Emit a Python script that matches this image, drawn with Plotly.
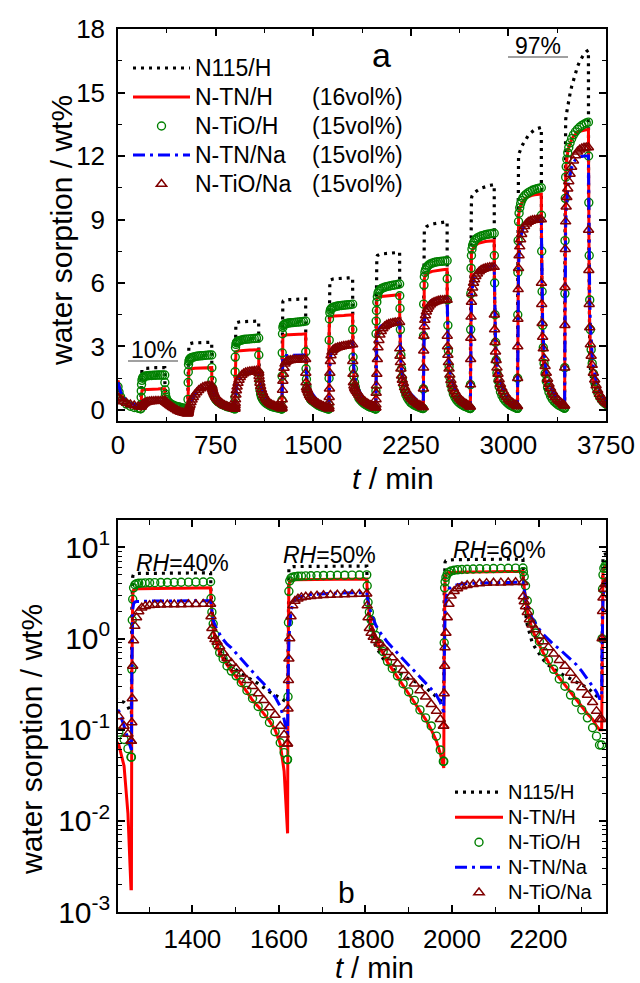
import plotly.graph_objects as go

# ---------------- timing (min) ----------------
SORP_START = [176, 537, 898, 1259, 1620, 1981, 2346, 2708, 3070, 3432]   # RH step switched on
SORP_LEN = 183                                                            # RH step length
RH_STEPS = [10, 20, 30, 40, 50, 60, 70, 80, 90, 97]
SORP_OFF = [0, 1, 2, 3, 5, 8, 12, 17, 24, 32, 42, 54, 68, 83, 99, 115, 132, 149, 166, 183]
DES_OFF = [1, 3, 6, 10, 15, 21, 29, 38, 48, 59, 71, 84, 97, 110, 123, 136, 149, 161, 170, 177]
INIT_T = [0, 8, 20, 40, 65, 95, 125, 155, 172]

# ---------------- N115/H ----------------
N115_H_INIT = [1.0, 0.8, 0.62, 0.48, 0.38, 0.3, 0.26, 0.23, 0.2]
N115_H_SORP = [
    [0.2, 0.8, 1.4, 1.7, 1.85, 1.9, 1.93, 1.95, 1.96, 1.97, 1.97, 1.98, 1.98, 1.99, 1.99, 2.0, 2.0, 2.0, 2.0, 2.0],
    [0.2, 1.2, 2.3, 2.8, 3.0, 3.08, 3.12, 3.14, 3.15, 3.16, 3.17, 3.17, 3.18, 3.18, 3.19, 3.19, 3.2, 3.2, 3.2, 3.2],
    [0.2, 1.5, 3.0, 3.7, 4.0, 4.08, 4.12, 4.14, 4.15, 4.16, 4.17, 4.17, 4.18, 4.18, 4.19, 4.19, 4.2, 4.2, 4.2, 4.2],
    [0.15, 2.0, 4.0, 4.8, 5.05, 5.12, 5.16, 5.18, 5.19, 5.2, 5.21, 5.21, 5.22, 5.22, 5.23, 5.23, 5.24, 5.24, 5.25, 5.25],
    [0.2, 2.5, 5.0, 5.8, 6.05, 6.12, 6.15, 6.17, 6.18, 6.19, 6.2, 6.2, 6.21, 6.21, 6.22, 6.22, 6.23, 6.24, 6.24, 6.25],
    [0.2, 3.0, 6.0, 6.9, 7.15, 7.25, 7.3, 7.32, 7.34, 7.36, 7.37, 7.38, 7.39, 7.4, 7.41, 7.42, 7.43, 7.44, 7.44, 7.45],
    [0.22, 3.5, 7.0, 8.0, 8.35, 8.5, 8.57, 8.62, 8.66, 8.69, 8.72, 8.75, 8.78, 8.8, 8.82, 8.84, 8.86, 8.88, 8.89, 8.9],
    [0.23, 4.0, 8.0, 9.3, 9.8, 10.0, 10.1, 10.17, 10.23, 10.28, 10.33, 10.38, 10.43, 10.48, 10.52, 10.55, 10.58, 10.61, 10.63, 10.65],
    [0.24, 5.0, 9.5, 11.2, 11.8, 12.0, 12.12, 12.22, 12.33, 12.44, 12.56, 12.7, 12.84, 12.97, 13.08, 13.17, 13.24, 13.29, 13.33, 13.35],
    [0.25, 6.0, 11.0, 12.8, 13.4, 13.7, 13.92, 14.12, 14.38, 14.65, 14.95, 15.28, 15.62, 15.94, 16.22, 16.46, 16.66, 16.82, 16.93, 17.0],
]
N115_H_DES = [
    [1.3, 0.9, 0.7, 0.58, 0.5, 0.45, 0.41, 0.38, 0.35, 0.33, 0.31, 0.29, 0.27, 0.26, 0.25, 0.24, 0.23, 0.22, 0.21, 0.2],
    [2.0, 1.3, 0.95, 0.75, 0.63, 0.55, 0.49, 0.44, 0.4, 0.37, 0.34, 0.32, 0.3, 0.28, 0.26, 0.25, 0.24, 0.23, 0.21, 0.2],
    [2.6, 1.6, 1.15, 0.9, 0.74, 0.63, 0.55, 0.49, 0.44, 0.4, 0.36, 0.33, 0.3, 0.27, 0.25, 0.23, 0.21, 0.2, 0.18, 0.15],
    [3.2, 2.0, 1.4, 1.05, 0.87, 0.74, 0.64, 0.56, 0.5, 0.45, 0.41, 0.38, 0.35, 0.32, 0.29, 0.26, 0.24, 0.22, 0.21, 0.2],
    [3.8, 2.4, 1.65, 1.22, 0.98, 0.82, 0.7, 0.6, 0.53, 0.47, 0.43, 0.39, 0.36, 0.34, 0.31, 0.29, 0.26, 0.23, 0.21, 0.2],
    [4.5, 2.8, 1.9, 1.42, 1.12, 0.92, 0.78, 0.67, 0.58, 0.51, 0.46, 0.42, 0.39, 0.36, 0.34, 0.31, 0.29, 0.26, 0.24, 0.22],
    [5.4, 3.3, 2.2, 1.6, 1.27, 1.03, 0.86, 0.73, 0.63, 0.55, 0.49, 0.44, 0.4, 0.37, 0.34, 0.32, 0.29, 0.27, 0.25, 0.23],
    [6.5, 4.0, 2.6, 1.85, 1.42, 1.13, 0.93, 0.78, 0.67, 0.58, 0.51, 0.46, 0.42, 0.38, 0.35, 0.32, 0.3, 0.28, 0.26, 0.24],
    [8.0, 5.0, 3.2, 2.2, 1.66, 1.3, 1.06, 0.88, 0.74, 0.64, 0.56, 0.49, 0.44, 0.4, 0.37, 0.34, 0.31, 0.29, 0.27, 0.25],
    [10.0, 6.2, 3.9, 2.6, 1.95, 1.52, 1.22, 1.0, 0.84, 0.72, 0.62, 0.54, 0.48, 0.43, 0.39, 0.35, 0.32, 0.3, 0.28, 0.26],
]

# ---------------- N-TN/H ----------------
TN_H_INIT = [1.4, 1.15, 0.85, 0.58, 0.4, 0.26, 0.16, 0.08, 0.03]
TN_H_SORP = [
    [0.03, 0.3, 0.6, 0.78, 0.88, 0.92, 0.94, 0.95, 0.96, 0.96, 0.97, 0.97, 0.98, 0.98, 0.99, 0.99, 0.99, 1.0, 1.0, 1.0],
    [0.02, 0.5, 1.3, 1.65, 1.85, 1.9, 1.93, 1.94, 1.95, 1.96, 1.96, 1.97, 1.97, 1.98, 1.98, 1.99, 1.99, 2.0, 2.0, 2.0],
    [0.02, 0.7, 1.9, 2.4, 2.65, 2.72, 2.76, 2.78, 2.79, 2.8, 2.8, 2.81, 2.81, 2.82, 2.82, 2.83, 2.83, 2.84, 2.84, 2.85],
    [0.0018, 0.4, 1.6, 3.0, 3.4, 3.48, 3.51, 3.52, 3.53, 3.54, 3.55, 3.55, 3.56, 3.56, 3.57, 3.57, 3.58, 3.58, 3.59, 3.6],
    [0.0073, 0.5, 2.0, 3.8, 4.25, 4.35, 4.39, 4.41, 4.42, 4.43, 4.44, 4.45, 4.45, 4.46, 4.47, 4.47, 4.48, 4.49, 4.49, 4.5],
    [0.038, 0.8, 3.0, 4.6, 5.1, 5.25, 5.3, 5.32, 5.34, 5.35, 5.36, 5.37, 5.38, 5.39, 5.4, 5.41, 5.42, 5.43, 5.44, 5.45],
    [0.1, 1.0, 3.5, 5.3, 6.0, 6.2, 6.3, 6.36, 6.41, 6.45, 6.49, 6.52, 6.55, 6.57, 6.59, 6.61, 6.62, 6.63, 6.64, 6.65],
    [0.1, 1.2, 4.0, 6.0, 7.0, 7.35, 7.5, 7.6, 7.68, 7.74, 7.8, 7.85, 7.89, 7.92, 7.94, 7.96, 7.97, 7.98, 7.99, 8.0],
    [0.1, 1.5, 4.8, 7.2, 8.6, 9.1, 9.35, 9.52, 9.66, 9.78, 9.88, 9.96, 10.03, 10.08, 10.12, 10.15, 10.17, 10.18, 10.19, 10.2],
    [0.1, 2.0, 6.0, 8.8, 10.5, 11.2, 11.6, 11.9, 12.18, 12.4, 12.6, 12.78, 12.93, 13.04, 13.12, 13.17, 13.2, 13.22, 13.24, 13.25],
]
TN_H_DES = [
    [0.7, 0.5, 0.38, 0.3, 0.25, 0.21, 0.17, 0.14, 0.12, 0.1, 0.085, 0.07, 0.06, 0.05, 0.045, 0.04, 0.035, 0.03, 0.025, 0.02],
    [1.4, 0.95, 0.7, 0.55, 0.46, 0.39, 0.32, 0.27, 0.22, 0.18, 0.15, 0.12, 0.1, 0.08, 0.065, 0.055, 0.045, 0.035, 0.028, 0.02],
    [2.0, 1.35, 1.0, 0.8, 0.66, 0.56, 0.47, 0.4, 0.33, 0.28, 0.23, 0.18, 0.15, 0.12, 0.1, 0.082, 0.068, 0.04, 0.012, 0.0018],
    [2.6, 1.75, 1.3, 1.02, 0.84, 0.7, 0.6, 0.51, 0.44, 0.38, 0.32, 0.26, 0.21, 0.18, 0.15, 0.125, 0.1, 0.07, 0.035, 0.0073],
    [3.4, 2.4, 1.8, 1.45, 1.2, 1.0, 0.83, 0.68, 0.55, 0.46, 0.38, 0.31, 0.25, 0.2, 0.16, 0.13, 0.1, 0.075, 0.055, 0.038],
    [4.4, 3.5, 2.7, 2.0, 1.6, 1.28, 1.03, 0.84, 0.68, 0.55, 0.45, 0.37, 0.31, 0.26, 0.22, 0.18, 0.15, 0.13, 0.11, 0.1],
    [5.3, 4.0, 2.9, 2.1, 1.62, 1.28, 1.03, 0.84, 0.68, 0.56, 0.46, 0.38, 0.31, 0.26, 0.22, 0.18, 0.15, 0.13, 0.11, 0.1],
    [6.4, 4.8, 3.4, 2.4, 1.82, 1.43, 1.15, 0.93, 0.76, 0.62, 0.51, 0.42, 0.34, 0.28, 0.23, 0.19, 0.16, 0.13, 0.11, 0.1],
    [8.2, 6.0, 4.3, 3.0, 2.25, 1.75, 1.4, 1.13, 0.92, 0.75, 0.61, 0.5, 0.41, 0.34, 0.28, 0.23, 0.19, 0.15, 0.12, 0.1],
    [10.6, 7.8, 5.5, 3.8, 2.85, 2.2, 1.75, 1.4, 1.13, 0.92, 0.75, 0.61, 0.5, 0.41, 0.34, 0.28, 0.23, 0.19, 0.16, 0.13],
]

# ---------------- N-TiO/H ----------------
TIO_H_INIT = [1.1, 0.85, 0.62, 0.42, 0.28, 0.18, 0.12, 0.08, 0.06]
TIO_H_SORP = [
    [0.06, 0.25, 0.6, 0.9, 1.2, 1.4, 1.5, 1.55, 1.58, 1.6, 1.61, 1.62, 1.63, 1.63, 1.64, 1.64, 1.65, 1.65, 1.65, 1.65],
    [0.045, 0.5, 1.3, 1.8, 2.15, 2.3, 2.38, 2.43, 2.46, 2.48, 2.5, 2.52, 2.54, 2.55, 2.56, 2.57, 2.58, 2.59, 2.6, 2.6],
    [0.055, 0.6, 1.8, 2.5, 2.95, 3.1, 3.18, 3.22, 3.25, 3.27, 3.29, 3.31, 3.33, 3.34, 3.35, 3.36, 3.37, 3.38, 3.39, 3.4],
    [0.05, 0.46, 1.6, 2.7, 3.6, 3.9, 4.0, 4.04, 4.06, 4.08, 4.1, 4.11, 4.12, 4.13, 4.14, 4.15, 4.16, 4.17, 4.18, 4.2],
    [0.047, 0.23, 1.5, 3.3, 4.3, 4.6, 4.72, 4.78, 4.82, 4.85, 4.87, 4.89, 4.91, 4.93, 4.94, 4.95, 4.96, 4.97, 4.98, 5.0],
    [0.045, 0.9, 3.6, 4.2, 4.7, 5.1, 5.35, 5.52, 5.62, 5.68, 5.73, 5.77, 5.8, 5.83, 5.85, 5.87, 5.89, 5.91, 5.93, 5.95],
    [0.068, 1.0, 3.5, 5.0, 5.9, 6.3, 6.5, 6.62, 6.72, 6.79, 6.85, 6.9, 6.94, 6.97, 6.99, 7.01, 7.02, 7.03, 7.04, 7.05],
    [0.07, 1.2, 3.8, 5.5, 6.7, 7.3, 7.6, 7.78, 7.9, 8.0, 8.07, 8.13, 8.18, 8.22, 8.25, 8.28, 8.3, 8.32, 8.34, 8.35],
    [0.075, 1.5, 4.5, 6.5, 8.0, 8.9, 9.3, 9.55, 9.75, 9.9, 10.02, 10.12, 10.2, 10.27, 10.33, 10.38, 10.42, 10.45, 10.48, 10.5],
    [0.085, 2.0, 5.5, 8.0, 10.0, 11.0, 11.5, 11.85, 12.15, 12.4, 12.62, 12.82, 13.0, 13.14, 13.26, 13.36, 13.44, 13.5, 13.56, 13.6],
]
TIO_H_DES = [
    [1.3, 0.95, 0.75, 0.6, 0.5, 0.43, 0.37, 0.32, 0.28, 0.24, 0.21, 0.18, 0.16, 0.14, 0.12, 0.1, 0.085, 0.07, 0.055, 0.045],
    [2.0, 1.4, 1.05, 0.85, 0.7, 0.6, 0.52, 0.45, 0.39, 0.34, 0.29, 0.25, 0.21, 0.18, 0.15, 0.13, 0.11, 0.09, 0.07, 0.055],
    [2.6, 1.75, 1.25, 0.95, 0.76, 0.62, 0.52, 0.44, 0.37, 0.31, 0.26, 0.21, 0.17, 0.145, 0.125, 0.108, 0.094, 0.078, 0.062, 0.05],
    [2.75, 1.95, 1.45, 1.1, 0.85, 0.7, 0.6, 0.5, 0.44, 0.39, 0.33, 0.27, 0.22, 0.18, 0.15, 0.12, 0.095, 0.072, 0.056, 0.047],
    [3.8, 2.5, 1.95, 1.6, 1.3, 1.08, 0.88, 0.72, 0.56, 0.47, 0.39, 0.32, 0.26, 0.21, 0.165, 0.135, 0.11, 0.085, 0.06, 0.045],
    [5.4, 4.8, 3.8, 2.6, 1.95, 1.5, 1.15, 0.93, 0.72, 0.58, 0.46, 0.36, 0.3, 0.24, 0.2, 0.165, 0.135, 0.105, 0.085, 0.068],
    [6.2, 5.2, 4.0, 2.8, 2.05, 1.55, 1.2, 0.97, 0.76, 0.61, 0.49, 0.39, 0.32, 0.26, 0.21, 0.17, 0.14, 0.11, 0.088, 0.07],
    [7.3, 6.0, 4.5, 3.2, 2.35, 1.75, 1.38, 1.1, 0.86, 0.69, 0.55, 0.44, 0.36, 0.29, 0.23, 0.19, 0.15, 0.12, 0.095, 0.075],
    [9.2, 7.5, 5.6, 4.0, 2.95, 2.2, 1.72, 1.36, 1.06, 0.84, 0.66, 0.52, 0.42, 0.34, 0.27, 0.22, 0.18, 0.14, 0.11, 0.085],
    [12.0, 9.8, 7.3, 5.2, 3.8, 2.85, 2.2, 1.72, 1.34, 1.05, 0.82, 0.64, 0.51, 0.41, 0.33, 0.27, 0.22, 0.17, 0.14, 0.11],
]

# ---------------- N-TN/Na ----------------
TN_NA_INIT = [1.3, 1.1, 0.85, 0.62, 0.45, 0.33, 0.25, 0.2, 0.18]
TN_NA_SORP = [
    [0.18, 0.19, 0.2, 0.21, 0.23, 0.25, 0.28, 0.31, 0.34, 0.36, 0.38, 0.39, 0.4, 0.41, 0.41, 0.42, 0.42, 0.42, 0.42, 0.42],
    [-0.15, -0.12, -0.09, -0.06, 0.0, 0.08, 0.17, 0.27, 0.38, 0.5, 0.62, 0.74, 0.85, 0.94, 1.0, 1.04, 1.07, 1.09, 1.1, 1.1],
    [0.05, 0.15, 0.3, 0.45, 0.65, 0.85, 1.02, 1.18, 1.33, 1.46, 1.57, 1.66, 1.73, 1.77, 1.8, 1.82, 1.83, 1.84, 1.85, 1.85],
    [0.06, 0.46, 1.25, 2.08, 2.4, 2.52, 2.55, 2.56, 2.57, 2.57, 2.58, 2.58, 2.58, 2.59, 2.59, 2.59, 2.6, 2.6, 2.6, 2.6],
    [0.09, 0.3, 0.6, 0.9, 1.4, 2.0, 2.4, 2.65, 2.82, 2.92, 2.99, 3.04, 3.08, 3.11, 3.13, 3.15, 3.17, 3.18, 3.19, 3.2],
    [0.16, 0.5, 1.2, 1.8, 2.6, 3.2, 3.5, 3.68, 3.82, 3.92, 3.98, 4.03, 4.06, 4.08, 4.1, 4.11, 4.12, 4.13, 4.14, 4.15],
    [0.22, 0.8, 1.8, 2.6, 3.5, 4.1, 4.45, 4.68, 4.85, 4.97, 5.06, 5.13, 5.18, 5.22, 5.25, 5.27, 5.28, 5.29, 5.3, 5.3],
    [0.22, 1.0, 2.2, 3.2, 4.3, 5.1, 5.6, 5.92, 6.15, 6.32, 6.46, 6.56, 6.64, 6.7, 6.74, 6.77, 6.78, 6.79, 6.8, 6.8],
    [0.23, 1.3, 2.8, 4.2, 5.6, 6.7, 7.3, 7.75, 8.1, 8.37, 8.58, 8.74, 8.85, 8.92, 8.96, 8.98, 8.99, 9.0, 9.0, 9.0],
    [0.25, 1.7, 3.6, 5.4, 7.2, 8.6, 9.4, 9.95, 10.4, 10.8, 11.15, 11.45, 11.68, 11.83, 11.92, 11.96, 11.98, 12.0, 12.0, 12.0],
]
TN_NA_DES = [
    [0.41, 0.4, 0.38, 0.36, 0.33, 0.3, 0.26, 0.22, 0.18, 0.13, 0.08, 0.03, -0.02, -0.06, -0.09, -0.11, -0.13, -0.14, -0.15, -0.15],
    [1.06, 1.01, 0.95, 0.88, 0.8, 0.72, 0.63, 0.55, 0.47, 0.4, 0.33, 0.27, 0.22, 0.18, 0.15, 0.12, 0.1, 0.08, 0.06, 0.05],
    [1.75, 1.62, 1.48, 1.34, 1.2, 1.07, 0.93, 0.8, 0.68, 0.57, 0.47, 0.38, 0.31, 0.26, 0.22, 0.19, 0.16, 0.11, 0.08, 0.06],
    [2.4, 1.9, 1.6, 1.4, 1.25, 1.12, 0.98, 0.87, 0.79, 0.69, 0.59, 0.5, 0.43, 0.37, 0.32, 0.27, 0.23, 0.18, 0.13, 0.09],
    [2.9, 2.55, 2.2, 1.9, 1.62, 1.4, 1.2, 1.04, 0.91, 0.8, 0.69, 0.59, 0.51, 0.44, 0.38, 0.33, 0.28, 0.24, 0.2, 0.16],
    [3.9, 3.3, 2.8, 2.35, 1.95, 1.68, 1.45, 1.26, 1.1, 0.97, 0.86, 0.77, 0.68, 0.6, 0.52, 0.44, 0.36, 0.3, 0.26, 0.22],
    [5.0, 4.2, 3.4, 2.8, 2.3, 1.95, 1.65, 1.4, 1.2, 1.03, 0.88, 0.75, 0.64, 0.55, 0.47, 0.4, 0.34, 0.29, 0.25, 0.22],
    [6.4, 5.4, 4.3, 3.4, 2.75, 2.25, 1.88, 1.58, 1.33, 1.12, 0.95, 0.8, 0.68, 0.58, 0.49, 0.42, 0.36, 0.3, 0.26, 0.23],
    [8.5, 7.0, 5.5, 4.2, 3.35, 2.7, 2.2, 1.82, 1.52, 1.27, 1.06, 0.89, 0.75, 0.63, 0.53, 0.45, 0.38, 0.32, 0.28, 0.25],
    [11.3, 9.2, 7.0, 5.3, 4.05, 3.15, 2.55, 2.08, 1.7, 1.4, 1.15, 0.95, 0.79, 0.66, 0.55, 0.46, 0.39, 0.33, 0.29, 0.26],
]

# ---------------- N-TiO/Na ----------------
TIO_NA_INIT = [0.6, 0.55, 0.48, 0.4, 0.33, 0.26, 0.21, 0.17, 0.15]
TIO_NA_SORP = [
    [0.15, 0.16, 0.17, 0.18, 0.2, 0.22, 0.25, 0.28, 0.31, 0.34, 0.37, 0.39, 0.4, 0.41, 0.41, 0.42, 0.42, 0.42, 0.42, 0.42],
    [-0.16, -0.13, -0.1, -0.07, -0.02, 0.05, 0.14, 0.24, 0.36, 0.48, 0.6, 0.72, 0.83, 0.93, 1.01, 1.07, 1.11, 1.13, 1.14, 1.15],
    [0.05, 0.12, 0.22, 0.32, 0.5, 0.72, 0.92, 1.1, 1.27, 1.42, 1.55, 1.65, 1.72, 1.77, 1.8, 1.82, 1.83, 1.84, 1.85, 1.85],
    [0.075, 0.12, 0.22, 0.5, 0.95, 1.37, 1.7, 1.98, 2.18, 2.27, 2.32, 2.34, 2.35, 2.36, 2.37, 2.37, 2.38, 2.38, 2.39, 2.4],
    [0.07, 0.17, 0.35, 0.6, 1.0, 1.75, 2.3, 2.58, 2.74, 2.83, 2.88, 2.92, 2.95, 2.98, 3.0, 3.02, 3.04, 3.06, 3.08, 3.1],
    [0.11, 0.25, 0.5, 0.8, 1.15, 1.7, 2.4, 2.95, 3.3, 3.55, 3.72, 3.85, 3.95, 4.02, 4.06, 4.09, 4.11, 4.13, 4.14, 4.15],
    [0.13, 1.0, 2.0, 2.8, 3.5, 3.95, 4.25, 4.47, 4.64, 4.77, 4.88, 4.97, 5.04, 5.09, 5.13, 5.16, 5.18, 5.19, 5.2, 5.2],
    [0.15, 1.2, 2.4, 3.4, 4.4, 5.1, 5.5, 5.78, 6.0, 6.17, 6.32, 6.44, 6.54, 6.61, 6.66, 6.7, 6.72, 6.74, 6.75, 6.75],
    [0.18, 1.5, 3.0, 4.3, 5.7, 6.7, 7.3, 7.72, 8.05, 8.3, 8.52, 8.68, 8.8, 8.88, 8.93, 8.96, 8.98, 8.99, 9.0, 9.0],
    [0.2, 2.0, 4.0, 5.8, 7.6, 8.9, 9.6, 10.05, 10.45, 10.8, 11.15, 11.48, 11.78, 12.02, 12.2, 12.3, 12.36, 12.39, 12.4, 12.4],
]
TIO_NA_DES = [
    [0.41, 0.4, 0.39, 0.37, 0.34, 0.31, 0.27, 0.23, 0.18, 0.13, 0.08, 0.03, -0.02, -0.06, -0.1, -0.12, -0.14, -0.15, -0.16, -0.16],
    [1.1, 1.05, 0.98, 0.9, 0.82, 0.73, 0.64, 0.56, 0.48, 0.41, 0.34, 0.28, 0.23, 0.19, 0.16, 0.13, 0.11, 0.09, 0.07, 0.05],
    [1.75, 1.6, 1.45, 1.28, 1.12, 0.97, 0.83, 0.7, 0.58, 0.48, 0.39, 0.32, 0.26, 0.22, 0.19, 0.165, 0.14, 0.11, 0.09, 0.075],
    [1.75, 1.3, 1.07, 0.98, 0.92, 0.82, 0.7, 0.61, 0.54, 0.47, 0.41, 0.35, 0.3, 0.25, 0.21, 0.175, 0.145, 0.11, 0.088, 0.07],
    [2.3, 1.7, 1.3, 1.15, 1.04, 0.96, 0.88, 0.8, 0.71, 0.62, 0.53, 0.45, 0.38, 0.32, 0.27, 0.23, 0.19, 0.16, 0.13, 0.11],
    [2.9, 2.55, 2.25, 1.95, 1.62, 1.42, 1.26, 1.07, 0.93, 0.8, 0.68, 0.58, 0.5, 0.42, 0.35, 0.29, 0.24, 0.2, 0.16, 0.13],
    [3.5, 3.0, 2.6, 2.25, 1.95, 1.66, 1.41, 1.2, 1.02, 0.87, 0.74, 0.63, 0.53, 0.45, 0.38, 0.32, 0.27, 0.22, 0.18, 0.15],
    [4.5, 3.8, 3.2, 2.75, 2.35, 2.0, 1.7, 1.44, 1.22, 1.03, 0.87, 0.73, 0.61, 0.51, 0.43, 0.36, 0.3, 0.25, 0.21, 0.18],
    [6.0, 5.0, 4.1, 3.45, 2.9, 2.45, 2.07, 1.75, 1.47, 1.23, 1.03, 0.86, 0.72, 0.6, 0.5, 0.42, 0.35, 0.29, 0.24, 0.2],
    [8.5, 6.6, 5.0, 3.9, 3.1, 2.55, 2.12, 1.75, 1.43, 1.16, 0.93, 0.75, 0.61, 0.5, 0.41, 0.34, 0.29, 0.25, 0.22, 0.2],
]

VOL_TEXT = ["", "(16vol%)", "(15vol%)", "(15vol%)", "(15vol%)"]
NAMES = ["N115/H", "N-TN/H", "N-TiO/H", "N-TN/Na", "N-TiO/Na"]
X_TITLE = "<i>t</i> / min"
Y_TITLE = "water sorption / wt%"


def build(init, sorp, des):
    t, y = list(INIT_T), list(init)
    for k, s in enumerate(SORP_START):
        t += [s + o for o in SORP_OFF]
        y += sorp[k]
        e = s + SORP_LEN
        t += [e + o for o in DES_OFF]
        y += des[k]
    return t, y


SERIES = [
    (N115_H_INIT, N115_H_SORP, N115_H_DES),
    (TN_H_INIT, TN_H_SORP, TN_H_DES),
    (TIO_H_INIT, TIO_H_SORP, TIO_H_DES),
    (TN_NA_INIT, TN_NA_SORP, TN_NA_DES),
    (TIO_NA_INIT, TIO_NA_SORP, TIO_NA_DES),
]

FONT = "Liberation Sans, Arial, sans-serif"
W, H = 640, 983
ML, MR, MT, MB = 118, 34, 29, 71
PW, PH = W - ML - MR, H - MT - MB


def px(p):
    return (p - ML) / PW


def py(p):
    return 1 - (p - MT) / PH


def style(i):
    if i == 0:
        return dict(mode="lines", line=dict(color="black", width=3.2, dash="3px,5px"))
    if i == 1:
        return dict(mode="lines", line=dict(color="#ff0000", width=3))
    if i == 2:
        return dict(mode="markers", marker=dict(symbol="circle-open", size=8, color="#008000",
                                                  line=dict(width=1.4, color="#008000")))
    if i == 3:
        return dict(mode="lines", line=dict(color="#0000ff", width=3, dash="12px,5px,3px,5px"))
    return dict(mode="markers", marker=dict(symbol="triangle-up-open", size=9, color="#800000",
                                              line=dict(width=1.5, color="#800000")))


def label(name, size):
    return '<span style="font-size:%dpx">%s</span>' % (size, name)


fig = go.Figure()
for i, (init, sorp, des) in enumerate(SERIES):
    t, y = build(init, sorp, des)
    fig.add_trace(go.Scatter(x=t, y=y, name=label(NAMES[i], 23), xaxis="x", yaxis="y",
                             legend="legend", **style(i)))
for i, (init, sorp, des) in enumerate(SERIES):
    t, y = build(init, sorp, des)
    tp = [a for a, b in zip(t, y) if b > 0]
    yp = [b for b in y if b > 0]
    fig.add_trace(go.Scatter(x=tp, y=yp, name=label(NAMES[i], 20), xaxis="x2", yaxis="y2",
                             legend="legend2", **style(i)))

axis_base = dict(showline=True, linecolor="black", linewidth=1.5, mirror="ticks",
                 ticks="inside", tickcolor="black", tickwidth=1.5, ticklen=7,
                 showgrid=False, zeroline=False, automargin=False,
                 tickfont=dict(family=FONT, size=26, color="black"))
minor_base = dict(ticks="inside", ticklen=4, tickwidth=1.2, tickcolor="black", showgrid=False)

fig.update_layout(
    width=W, height=H,
    margin=dict(l=ML, r=MR, t=MT, b=MB, autoexpand=False),
    paper_bgcolor="white", plot_bgcolor="white",
    font=dict(family=FONT, color="black"),
    xaxis=dict(axis_base, domain=[0, 1], anchor="y", range=[0, 3750],
               tick0=0, dtick=750, ticklabelstandoff=0,
               minor=dict(minor_base, dtick=375, tick0=0)),
    yaxis=dict(axis_base, domain=[py(421), py(29)], anchor="x", range=[-0.52, 18],
               tick0=0, dtick=3, ticklabelstandoff=6,
               minor=dict(minor_base, dtick=1.5, tick0=0)),
    xaxis2=dict(axis_base, domain=[0, 1], anchor="y2", range=[1228, 2356],
                tick0=1400, dtick=200, ticklabelstandoff=3,
                minor=dict(minor_base, ticklen=5, dtick=100, tick0=1300)),
    yaxis2=dict(axis_base, domain=[0, py(520)], anchor="x2", type="log", range=[-3, 1.301],
                tickmode="array", tickvals=[0.001, 0.01, 0.1, 1, 10],
                ticktext=["10<sup>-3</sup>", "10<sup>-2</sup>", "10<sup>-1</sup>", "10<sup>0</sup>", "10<sup>1</sup>"],
                tickfont=dict(family=FONT, size=30, color="black"),
                minor=dict(minor_base, tickmode="array",
                           tickvals=[m * 10 ** e for e in range(-3, 2) for m in range(2, 10)] + [20])),
    legend=dict(x=px(128), y=py(48.5), xanchor="left", yanchor="top", bgcolor="rgba(0,0,0,0)",
                font=dict(family=FONT, size=20), itemwidth=57, tracegroupgap=0, itemclick=False),
    legend2=dict(x=px(450), y=py(774.5), xanchor="left", yanchor="top", bgcolor="rgba(0,0,0,0)",
                 font=dict(family=FONT, size=17), itemwidth=48, tracegroupgap=0, itemclick=False),
)

ann = []
for row, txt in zip([68, 97, 126, 155, 184], VOL_TEXT):
    if txt:
        ann.append(dict(text=txt, x=px(310), y=py(row), xanchor="left", yanchor="middle",
                        font=dict(size=23)))
ann += [
    # axis titles
    dict(text=Y_TITLE, x=px(62), y=py(231), textangle=-90, font=dict(size=30)),
    dict(text=Y_TITLE, x=px(31), y=py(740), textangle=-90, font=dict(size=30)),
    dict(text=X_TITLE, x=px(393), y=py(478), font=dict(size=30)),
    dict(text=X_TITLE, x=px(374), y=py(968), font=dict(size=29)),
    # panel letters and RH labels
    dict(text="a", x=px(381), y=py(55), font=dict(size=34)),
    dict(text="b", x=px(346), y=py(892), font=dict(size=30)),
    dict(text="%d%%" % RH_STEPS[0], x=px(154), y=py(350), font=dict(size=23)),
    dict(text="%d%%" % RH_STEPS[-1], x=px(538), y=py(46), font=dict(size=23)),
    dict(text="<i>RH</i>=%d%%" % RH_STEPS[3], x=px(182), y=py(563), font=dict(size=23)),
    dict(text="<i>RH</i>=%d%%" % RH_STEPS[4], x=px(329), y=py(555), font=dict(size=23)),
    dict(text="<i>RH</i>=%d%%" % RH_STEPS[5], x=px(499), y=py(550), font=dict(size=23)),
]
for a in ann:
    a.update(xref="paper", yref="paper", showarrow=False)
    a.setdefault("xanchor", "center")
    a.setdefault("yanchor", "middle")
    a["font"] = dict(family=FONT, color="black", size=a["font"]["size"])
fig.update_layout(annotations=ann)

fig.update_layout(shapes=[
    dict(type="line", xref="paper", yref="paper", x0=px(128), x1=px(178), y0=py(361), y1=py(361),
         line=dict(color="#808080", width=1.5)),
    dict(type="line", xref="paper", yref="paper", x0=px(508), x1=px(568), y0=py(57), y1=py(57),
         line=dict(color="#808080", width=1.5)),
])

fig.write_html("out.html", config={"displayModeBar": False},
               post_script="document.body.style.margin='0px';")
